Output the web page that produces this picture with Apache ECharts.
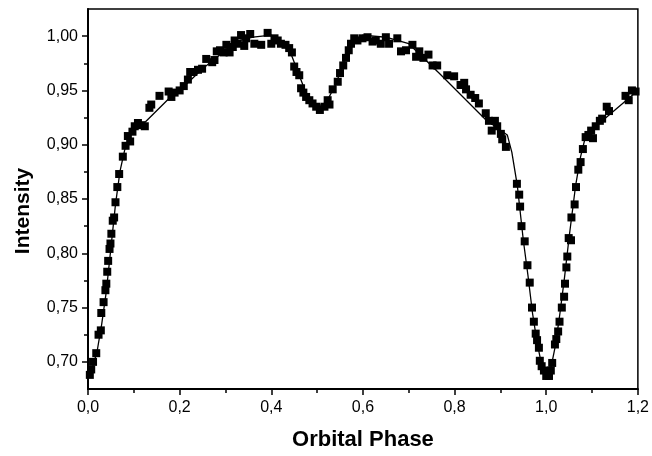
<!DOCTYPE html>
<html>
<head>
<meta charset="utf-8">
<script src="https://cdn.jsdelivr.net/npm/echarts@6/dist/echarts.min.js"></script>
<style>
html,body{margin:0;padding:0;background:#fff;}
#chart{width:652px;height:456px;}
</style>
</head>
<body>
<div id="chart"></div>
<script>
// Observed light-curve points
var phaseObs = [
0.004,0.007,0.011,0.018,0.023,0.028,0.029,0.034,0.038,0.040,0.042,0.044,0.047,0.049,0.051,0.054,0.057,0.060,0.064,0.068,
0.076,0.082,0.087,0.092,0.097,0.102,0.109,0.116,0.124,0.134,0.138,0.156,0.176,0.182,0.189,0.200,0.209,0.218,0.223,0.230,
0.240,0.249,0.258,0.271,0.276,0.281,0.288,0.296,0.302,0.309,0.316,0.320,0.327,0.334,0.341,0.345,0.354,0.363,0.378,0.392,
0.400,0.407,0.414,0.421,0.431,0.439,0.445,0.450,0.455,0.461,0.465,0.470,0.476,0.483,0.490,0.498,0.506,0.516,0.523,0.527,
0.534,0.545,0.550,0.557,0.563,0.569,0.574,0.581,0.588,0.599,0.610,0.621,0.628,0.639,0.650,0.657,0.675,0.683,0.694,0.708,
0.716,0.723,0.732,0.743,0.752,0.762,0.784,0.799,0.813,0.821,0.825,0.835,0.845,0.853,0.868,0.875,0.881,0.888,0.893,0.901,
0.904,0.912,0.936,0.941,0.943,0.946,0.953,0.959,0.964,0.969,0.973,0.977,0.980,0.984,0.986,0.990,0.995,1.000,1.006,1.010,
1.013,1.019,1.022,1.026,1.029,1.034,1.039,1.041,1.044,1.046,1.049,1.054,1.055,1.062,1.065,1.070,1.075,1.080,1.086,1.092,
1.098,1.102,1.108,1.117,1.122,1.132,1.137,1.173,1.180,1.187,1.195
];
var intensityObs = [
0.688,0.693,0.700,0.708,0.725,0.729,0.745,0.755,0.766,0.772,0.783,0.793,0.804,0.809,0.818,0.830,0.833,0.847,0.861,0.873,
0.889,0.899,0.908,0.903,0.912,0.917,0.920,0.918,0.917,0.934,0.937,0.945,0.949,0.944,0.948,0.950,0.954,0.960,0.967,0.967,
0.969,0.970,0.979,0.976,0.978,0.986,0.987,0.985,0.992,0.985,0.990,0.996,0.993,1.001,0.991,0.998,1.002,0.993,0.992,1.003,
0.993,0.998,0.996,0.993,0.992,0.989,0.985,0.972,0.967,0.964,0.952,0.948,0.944,0.941,0.938,0.935,0.932,0.935,0.941,0.937,
0.951,0.958,0.966,0.973,0.980,0.987,0.993,0.998,0.996,0.998,0.999,0.995,0.996,0.993,0.999,0.993,0.998,0.986,0.987,0.992,
0.981,0.986,0.980,0.983,0.973,0.973,0.964,0.963,0.955,0.957,0.951,0.946,0.943,0.938,0.929,0.922,0.913,0.922,0.917,0.910,
0.905,0.898,0.864,0.854,0.843,0.825,0.811,0.789,0.773,0.750,0.737,0.726,0.720,0.713,0.701,0.696,0.692,0.687,0.687,0.692,
0.699,0.716,0.721,0.728,0.737,0.750,0.760,0.772,0.787,0.797,0.814,0.812,0.833,0.845,0.861,0.877,0.884,0.896,0.907,0.909,
0.913,0.906,0.917,0.922,0.924,0.935,0.931,0.945,0.941,0.950,0.949
];
// Model (fit) curve
var phaseFit = [
0.000,0.010,0.020,0.030,0.040,0.050,0.060,0.070,0.080,0.090,0.100,0.115,0.125,0.180,0.200,0.250,0.300,0.330,0.360,0.400,
0.420,0.440,0.460,0.480,0.500,0.520,0.540,0.560,0.580,0.600,0.650,0.700,0.766,0.868,0.915,0.925,0.937,0.950,0.960,0.970,
0.980,0.990,1.000,1.010,1.020,1.030,1.040,1.050,1.064,1.075,1.086,1.100,1.150,1.200
];
var intensityFit = [
0.686,0.695,0.710,0.735,0.765,0.805,0.845,0.876,0.895,0.907,0.913,0.918,0.921,0.944,0.950,0.970,0.987,0.996,0.999,1.001,
0.995,0.987,0.965,0.943,0.935,0.939,0.955,0.978,0.996,1.001,0.999,0.993,0.966,0.923,0.909,0.893,0.862,0.812,0.780,0.745,
0.718,0.697,0.686,0.694,0.715,0.745,0.778,0.815,0.862,0.889,0.908,0.914,0.932,0.950
];
var xTicks = [0, 0.2, 0.4, 0.6, 0.8, 1.0, 1.2];
var yTicks = [0.70, 0.75, 0.80, 0.85, 0.90, 0.95, 1.00];
var yMinorTicks = [0.725, 0.775, 0.825, 0.875, 0.925, 0.975];

var obs = phaseObs.map(function (p, i) { return [p, intensityObs[i]]; });
var fit = phaseFit.map(function (p, i) { return [p, intensityFit[i]]; });

var FONT = '"Liberation Sans", Arial, sans-serif';
var chart = echarts.init(document.getElementById('chart'), null, { renderer: 'canvas' });
chart.setOption({
  animation: false,
  backgroundColor: '#fff',
  grid: { left: 88, top: 9, right: 13, bottom: 66, show: true, borderColor: '#000', borderWidth: 1.5 },
  xAxis: {
    type: 'value', min: xTicks[0], max: xTicks[xTicks.length - 1], interval: 0.2,
    axisLine: { show: true, lineStyle: { color: '#000', width: 2 } },
    axisTick: { show: true, length: 6, lineStyle: { color: '#000', width: 1.5 } },
    minorTick: { show: true, splitNumber: 2, length: 4, lineStyle: { color: '#000', width: 1.5 } },
    splitLine: { show: false },
    axisLabel: { fontSize: 16, fontFamily: FONT, color: '#000', margin: 11,
      formatter: function (v) { return v.toFixed(1).replace('.', ','); } },
    name: 'Orbital Phase', nameLocation: 'middle', nameGap: 40,
    nameTextStyle: { fontSize: 22, fontWeight: 'bold', fontFamily: FONT, color: '#000' }
  },
  yAxis: [{
    type: 'value', min: 0.675, max: 1.025, position: 'left',
    axisLine: { show: true, lineStyle: { color: '#000', width: 2 } },
    axisTick: { show: true, length: 6, customValues: yTicks, lineStyle: { color: '#000', width: 1.5 } },
    splitLine: { show: false },
    axisLabel: { fontSize: 16, fontFamily: FONT, color: '#000', margin: 10, customValues: yTicks,
      formatter: function (v) { return v.toFixed(2).replace('.', ','); } },
    name: 'Intensity', nameLocation: 'middle', nameGap: 54,
    nameTextStyle: { fontSize: 21, fontWeight: 'bold', fontFamily: FONT, color: '#000', padding: [0, 24, 0, 0] }
  }, {
    type: 'value', min: 0.675, max: 1.025, position: 'left',
    axisLine: { show: false },
    axisTick: { show: true, length: 4, customValues: yMinorTicks, lineStyle: { color: '#000', width: 1.5 } },
    splitLine: { show: false },
    axisLabel: { show: false }
  }],
  series: [{
    type: 'line', data: fit, showSymbol: false, symbol: 'none', smooth: false,
    lineStyle: { color: '#000', width: 1.3 }, z: 2
  }, {
    type: 'scatter', data: obs, symbol: 'rect', symbolSize: 8,
    itemStyle: { color: '#000', opacity: 1 }, z: 3
  }]
});
</script>
</body>
</html>
